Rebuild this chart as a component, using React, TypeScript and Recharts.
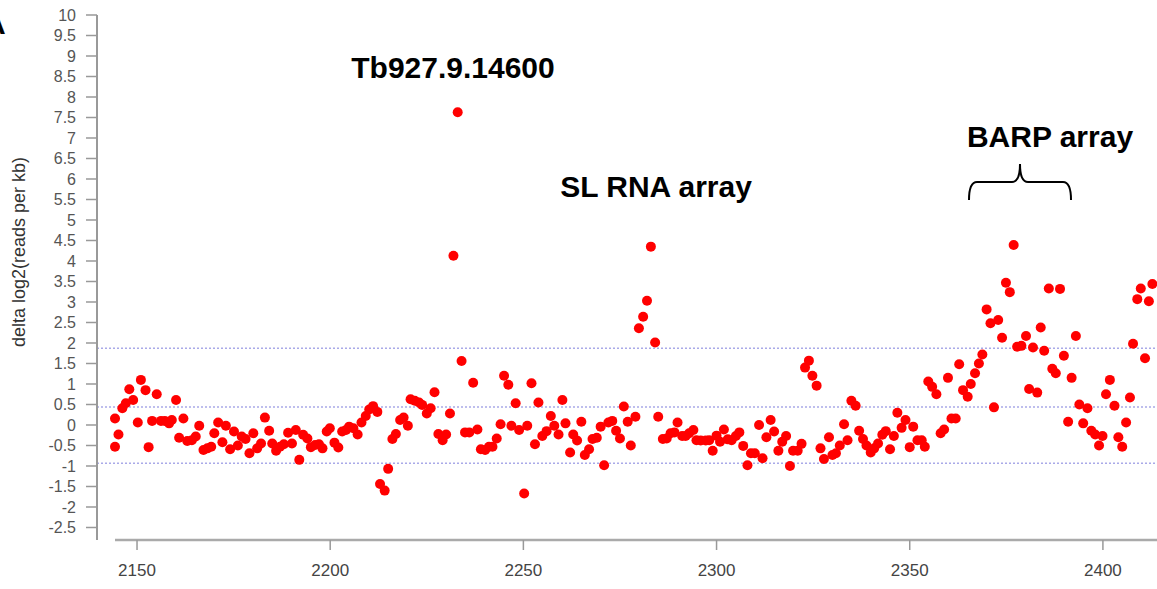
import { ScatterChart, Scatter, XAxis, YAxis, ReferenceLine } from 'recharts'

// bin position (kb) along chromosome
const positions = [
  2144.3, 2144.3, 2145.2, 2146.2, 2147.1, 2148.0, 2149.0, 2150.2, 2151.0, 2152.2,
  2153.0, 2153.9, 2155.1, 2156.2, 2157.2, 2158.3, 2159.0, 2160.1, 2160.9, 2162.0,
  2163.0, 2164.2, 2165.2, 2166.1, 2167.2, 2168.2, 2169.2, 2170.0, 2171.0, 2172.1,
  2173.0, 2174.1, 2175.1, 2176.1, 2177.1, 2178.1, 2179.1, 2180.1, 2181.1, 2182.1,
  2183.1, 2184.2, 2185.0, 2186.0, 2187.0, 2188.0, 2189.1, 2190.1, 2191.1, 2192.0,
  2193.0, 2194.1, 2195.0, 2196.1, 2197.1, 2198.0, 2199.1, 2199.9, 2201.1, 2202.1,
  2203.1, 2204.1, 2204.9, 2206.0, 2207.1, 2208.1, 2209.2, 2210.1, 2211.1, 2212.2,
  2212.9, 2214.1, 2215.0, 2216.1, 2217.0, 2218.1, 2219.0, 2220.1, 2220.8, 2221.9,
  2223.0, 2223.8, 2225.0, 2226.0, 2227.0, 2228.0, 2229.1, 2230.0, 2231.0, 2231.9,
  2233.0, 2234.0, 2234.9, 2236.0, 2237.0, 2238.1, 2239.0, 2240.1, 2241.1, 2242.0,
  2243.1, 2244.1, 2245.0, 2246.1, 2246.9, 2248.0, 2248.9, 2250.2, 2251.0, 2252.1,
  2253.0, 2253.9, 2254.9, 2256.0, 2257.1, 2258.0, 2259.1, 2260.1, 2260.9, 2262.1,
  2262.9, 2263.9, 2265.0, 2265.9, 2267.0, 2267.9, 2269.0, 2270.0, 2270.9, 2272.0,
  2273.0, 2274.0, 2275.0, 2276.0, 2277.0, 2277.8, 2279.0, 2279.9, 2281.0, 2282.0,
  2283.0, 2284.1, 2284.9, 2286.1, 2287.1, 2288.1, 2289.1, 2289.9, 2291.1, 2292.0,
  2292.9, 2294.0, 2294.8, 2295.9, 2297.2, 2298.1, 2299.0, 2300.0, 2300.9, 2301.9,
  2302.9, 2303.9, 2305.0, 2305.9, 2306.9, 2308.0, 2308.9, 2309.9, 2311.0, 2311.9,
  2312.9, 2314.0, 2314.9, 2316.0, 2317.0, 2318.0, 2319.0, 2319.8, 2321.0, 2322.0,
  2322.9, 2323.9, 2324.8, 2325.9, 2326.9, 2327.8, 2329.1, 2330.0, 2330.9, 2331.9,
  2333.0, 2333.9, 2334.9, 2336.0, 2336.9, 2337.9, 2338.8, 2339.9, 2340.8, 2341.8,
  2342.9, 2343.8, 2344.9, 2345.9, 2346.8, 2347.9, 2348.9, 2350.0, 2350.9, 2352.0,
  2353.1, 2353.9, 2354.8, 2355.8, 2356.9, 2358.0, 2358.9, 2359.9, 2360.8, 2361.9,
  2362.8, 2363.8, 2365.0, 2365.8, 2366.9, 2367.9, 2368.8, 2369.9, 2370.9, 2371.8,
  2372.9, 2373.9, 2374.9, 2375.9, 2376.9, 2377.8, 2378.9, 2380.1, 2380.9, 2381.9,
  2383.0, 2383.9, 2384.8, 2386.0, 2386.9, 2387.8, 2388.9, 2389.9, 2391.0, 2391.9,
  2393.0, 2393.9, 2394.9, 2396.0, 2397.0, 2398.0, 2399.0, 2399.9, 2400.8, 2401.8,
  2403.0, 2404.0, 2405.0, 2406.0, 2407.0, 2407.8, 2408.9, 2409.8, 2410.9, 2411.9,
  2412.8, 2415.5,
]

// delta log2(reads per kb)
const deltas = [
  0.16, -0.53, -0.23, 0.41, 0.53, 0.87, 0.61, 0.06, 1.10, 0.85,
  -0.54, 0.10, 0.75, 0.10, 0.10, 0.04, 0.12, 0.61, -0.31, 0.16,
  -0.39, -0.37, -0.28, -0.02, -0.61, -0.57, -0.53, -0.20, 0.06, -0.42,
  -0.02, -0.59, -0.16, -0.50, -0.28, -0.34, -0.69, -0.20, -0.57, -0.45,
  0.18, -0.14, -0.45, -0.63, -0.53, -0.47, -0.19, -0.45, -0.12, -0.85,
  -0.24, -0.33, -0.54, -0.49, -0.47, -0.57, -0.16, -0.08, -0.43, -0.55,
  -0.16, -0.12, -0.04, -0.08, -0.23, 0.06, 0.22, 0.38, 0.46, 0.32,
  -1.44, -1.60, -1.07, -0.34, -0.22, 0.12, 0.18, -0.02, 0.63, 0.59,
  0.55, 0.49, 0.28, 0.41, 0.80, -0.22, -0.37, -0.23, 0.28, 4.13,
  7.63, 1.56, -0.18, -0.18, 1.03, -0.11, -0.59, -0.61, -0.53, -0.53,
  -0.33, 0.02, 1.20, 0.98, -0.02, 0.53, -0.12, -1.67, -0.02, 1.02,
  -0.47, 0.55, -0.27, -0.15, 0.22, -0.02, -0.23, 0.61, 0.04, -0.67,
  -0.23, -0.38, 0.08, -0.73, -0.59, -0.34, -0.31, -0.04, -0.98, 0.06,
  0.10, -0.14, -0.33, 0.45, 0.08, -0.50, 0.20, 2.36, 2.64, 3.03,
  4.35, 2.01, 0.20, -0.34, -0.33, -0.20, -0.18, 0.06, -0.27, -0.27,
  -0.20, -0.12, -0.37, -0.38, -0.38, -0.37, -0.63, -0.26, -0.41, -0.11,
  -0.35, -0.37, -0.27, -0.18, -0.51, -0.98, -0.69, -0.69, 0.00, -0.81,
  -0.30, 0.12, -0.16, -0.63, -0.41, -0.27, -1.00, -0.63, -0.63, -0.46,
  1.40, 1.57, 1.20, 0.96, -0.57, -0.83, -0.30, -0.73, -0.69, -0.50,
  0.02, -0.37, 0.59, 0.47, -0.14, -0.34, -0.50, -0.67, -0.57, -0.45,
  -0.24, -0.15, -0.59, -0.27, 0.30, -0.07, 0.12, -0.54, -0.04, -0.37,
  -0.37, -0.53, 1.06, 0.93, 0.75, -0.20, -0.11, 1.15, 0.16, 0.16,
  1.48, 0.85, 0.69, 1.00, 1.26, 1.50, 1.72, 2.82, 2.48, 0.43,
  2.56, 2.13, 3.47, 3.24, 4.39, 1.91, 1.93, 2.17, 0.88, 1.89,
  0.79, 2.38, 1.81, 3.33, 1.37, 1.26, 3.32, 1.69, 0.08, 1.15,
  2.17, 0.50, 0.04, 0.41, -0.14, -0.23, -0.50, -0.27, 0.75, 1.10,
  0.47, -0.30, -0.53, 0.06, 0.67, 1.98, 3.07, 3.33, 1.63, 3.02,
  3.44, 8.45,
]

const xTicks = [2150, 2200, 2250, 2300, 2350, 2400]
const yTicks = [-2.5, -2, -1.5, -1, -0.5, 0, 0.5, 1, 1.5, 2, 2.5, 3, 3.5, 4, 4.5, 5, 5.5, 6, 6.5, 7, 7.5, 8, 8.5, 9, 9.5, 10]
const cutoffs = [1.87, 0.44, -0.93]

const xDomain: [number, number] = [2139.64, 2414]
const yDomain: [number, number] = [-2.805, 10]

const data = positions.map((x, i) => ({ x, y: deltas[i] }))

const font = '"Liberation Sans", Arial, sans-serif'

export default function App() {
  return (
    <div style={{ position: 'absolute', left: 0, top: 0, width: 1157, height: 589, background: '#fff', fontFamily: font }}>
      <ScatterChart width={1157} height={589} margin={{ top: 15, right: 0, bottom: 0, left: 0 }}>
        <XAxis
          type="number"
          dataKey="x"
          domain={xDomain}
          ticks={xTicks}
          allowDataOverflow
          height={49}
          axisLine={false}
          tickLine={{ stroke: '#999', strokeWidth: 1.5 }}
          tickSize={10}
          tickMargin={14}
          tick={{ fill: '#444', fontSize: 17, fontFamily: font }}
        />
        <YAxis
          type="number"
          dataKey="y"
          domain={yDomain}
          ticks={yTicks}
          allowDataOverflow
          width={97}
          interval={0}
          axisLine={{ stroke: '#999', strokeWidth: 2 }}
          tickLine={{ stroke: '#999', strokeWidth: 1.5 }}
          tickSize={11}
          tickMargin={10}
          tick={{ fill: '#555', fontSize: 16, fontFamily: font }}
        />
        {cutoffs.map((c) => (
          <ReferenceLine key={c} y={c} stroke="#a9a9e8" strokeWidth={1.5} strokeDasharray="2 2" />
        ))}
        <ReferenceLine
          segment={[{ x: 2144.3, y: yDomain[0] }, { x: xDomain[1], y: yDomain[0] }]}
          stroke="#aaa"
          strokeWidth={2.5}
        />
        <Scatter
          data={data}
          isAnimationActive={false}
          shape={(p: any) => <circle cx={p.cx} cy={p.cy} r={5} fill="#ff0000" />}
        />
      </ScatterChart>
      <svg width={1157} height={589} style={{ position: 'absolute', left: 0, top: 0, pointerEvents: 'none' }}>
        {/* y axis title */}
        <text
          x={19}
          y={252}
          transform="rotate(-90 19 252)"
          textAnchor="middle"
          dominantBaseline="central"
          fontFamily={font}
          fontSize={18}
          fill="#333"
        >
          delta log2(reads per kb)
        </text>
        <g fontFamily={font} fontWeight="bold" fontSize={30} fill="#000">
          <text x={-16} y={34}>A</text>
          <text x={453} y={78} textAnchor="middle">Tb927.9.14600</text>
          <text x={656} y={197} textAnchor="middle">SL RNA array</text>
          <text x={1050} y={147} textAnchor="middle">BARP array</text>
        </g>
        <path
          d="M969,200 Q969,182 977,182 L1012,182 Q1020,182 1020,164 Q1020,182 1028,182 L1063,182 Q1071,182 1071,200"
          fill="none"
          stroke="#000"
          strokeWidth={2}
        />
      </svg>
    </div>
  )
}
